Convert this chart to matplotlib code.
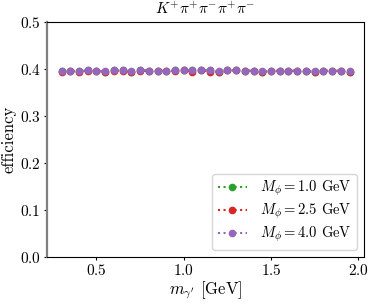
import numpy as np
import matplotlib
matplotlib.use("Agg")
import matplotlib.pyplot as plt

plt.rcParams.update({
    "font.family": "serif",
    "font.serif": ["cmr10"],
    "mathtext.fontset": "cm",
    "axes.formatter.use_mathtext": True,
    "axes.unicode_minus": False,
    "font.size": 11,
})

# dark photon masses [GeV]
m_gamma = np.round(np.arange(0.30, 1.951, 0.05), 2)

# efficiencies
eff_10 = [0.395, 0.396, 0.395, 0.397, 0.396, 0.394, 0.397, 0.397, 0.394, 0.397,
          0.396, 0.396, 0.396, 0.397, 0.397, 0.397, 0.397, 0.397, 0.394, 0.397,
          0.397, 0.396, 0.396, 0.394, 0.395, 0.396, 0.396, 0.396, 0.395, 0.394,
          0.396, 0.396, 0.396, 0.394]
eff_25 = [0.393, 0.395, 0.394, 0.396, 0.396, 0.394, 0.396, 0.396, 0.393, 0.396,
          0.396, 0.396, 0.396, 0.395, 0.397, 0.394, 0.397, 0.394, 0.394, 0.397,
          0.397, 0.396, 0.396, 0.394, 0.395, 0.396, 0.396, 0.396, 0.395, 0.394,
          0.396, 0.396, 0.396, 0.394]
eff_40 = [0.396, 0.396, 0.395, 0.397, 0.396, 0.395, 0.397, 0.398, 0.395, 0.398,
          0.396, 0.396, 0.396, 0.397, 0.397, 0.398, 0.397, 0.397, 0.395, 0.398,
          0.397, 0.396, 0.396, 0.395, 0.396, 0.396, 0.396, 0.396, 0.396, 0.395,
          0.396, 0.396, 0.396, 0.395]

series = [
    (r"$M_\phi = 1.0$ GeV", eff_10, "tab:green"),
    (r"$M_\phi = 2.5$ GeV", eff_25, "tab:red"),
    (r"$M_\phi = 4.0$ GeV", eff_40, "tab:purple"),
]

fig = plt.figure(figsize=(3.74, 3.04), dpi=100)
ax = fig.add_axes([0.126, 0.155, 0.847, 0.773])
for lab, y, c in series:
    ax.plot(m_gamma, y, ":", marker="o", ms=4.5, color=c, label=lab)

ax.set_ylim(0, 0.5)
ax.set_xticks([0.5, 1.0, 1.5, 2.0])
ax.set_yticks([0.0, 0.1, 0.2, 0.3, 0.4, 0.5])
ax.tick_params(length=2.5, pad=2, labelsize=11)
ax.set_xlabel(r"$m_{\gamma'}$ [GeV]", fontsize=12, labelpad=1)
ax.set_ylabel("efficiency", fontsize=12, labelpad=2)
ax.set_title(r"$K^{+}\pi^{+}\pi^{-}\pi^{+}\pi^{-}$", fontsize=11)
ax.spines["left"].set_color("gray")
ax.spines["left"].set_linewidth(1.6)
ax.legend(loc="lower right", fontsize=10.5, labelspacing=0.25,
          handlelength=2.0, handletextpad=0.9, borderpad=0.35)

fig.savefig("out.png", dpi=100)
